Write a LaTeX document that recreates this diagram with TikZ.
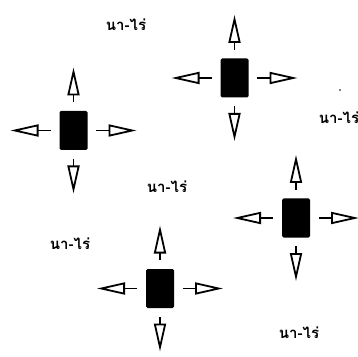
\documentclass[tikz,border=0pt]{standalone}
\usepackage{fontspec}
\newfontfamily\thaifont[Script=Thai]{Loma}
\usetikzlibrary{arrows.meta, positioning}

\tikzset{
  house/.style={rectangle, fill=black, rounded corners=1.5pt, minimum width=28pt, minimum height=39pt, inner sep=0pt},
  outflow/.style={-{Triangle[open, length=28pt, width=12pt]}, shorten <=8pt},
  field/.style={font=\thaifont\bfseries\fontsize{15}{15}\selectfont}
}

\begin{document}
\begin{tikzpicture}[x=1pt, y=1pt, node distance=63pt, line width=1.8pt]
        \useasboundingbox (0,0) rectangle (358,356);

        \node[house] (H1) at (73.5,225.5) {};
        \node[house] (H2) at (234.5,278) {};
        \node[house] (H3) at (296,138) {};
        \node[house] (H4) at (160,67.5) {};

        \node[field] (f1) at (126,331) {นา-ไร่};
        \node[field] (f2) at (339,238) {นา-ไร่};
        \node[field] (f3) at (167,169) {นา-ไร่};
        \node[field] (f4) at (70,112) {นา-ไร่};
        \node[field] (f5) at (299,23) {นา-ไร่};

        \coordinate[above of=H1] (H1n);
        \coordinate[below of=H1] (H1s);
        \coordinate[left of=H1] (H1w);
        \coordinate[right of=H1] (H1e);

        \coordinate[above of=H2] (H2n);
        \coordinate[below of=H2] (H2s);
        \coordinate[left of=H2] (H2w);
        \coordinate[right of=H2] (H2e);

        \coordinate[above of=H3] (H3n);
        \coordinate[below of=H3] (H3s);
        \coordinate[left of=H3] (H3w);
        \coordinate[right of=H3] (H3e);

        \coordinate[above of=H4] (H4n);
        \coordinate[below of=H4] (H4s);
        \coordinate[left of=H4] (H4w);
        \coordinate[right of=H4] (H4e);

        % stray dot
        \fill (340,266) circle (0.8pt);

        % arrows out of each house
        \draw[outflow] (H1.north) -- (H1n);
        \draw[outflow] (H1.south) -- (H1s);
        \draw[outflow] (H1.west) -- (H1w);
        \draw[outflow] (H1.east) -- (H1e);

        \draw[outflow] (H2.north) -- (H2n);
        \draw[outflow] (H2.south) -- (H2s);
        \draw[outflow] (H2.west) -- (H2w);
        \draw[outflow] (H2.east) -- (H2e);

        \draw[outflow] (H3.north) -- (H3n);
        \draw[outflow] (H3.south) -- (H3s);
        \draw[outflow] (H3.west) -- (H3w);
        \draw[outflow] (H3.east) -- (H3e);

        \draw[outflow] (H4.north) -- (H4n);
        \draw[outflow] (H4.south) -- (H4s);
        \draw[outflow] (H4.west) -- (H4w);
        \draw[outflow] (H4.east) -- (H4e);

    \end{tikzpicture}
\end{document}
